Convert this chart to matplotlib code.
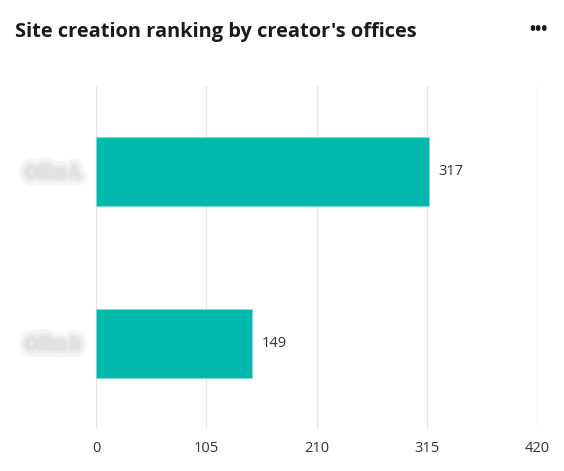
import matplotlib
matplotlib.use("Agg")
import matplotlib.pyplot as plt
import matplotlib.patheffects as pe

# data
offices = ["Office A", "Office B"]
site_counts = [317, 149]
x_ticks = [0, 105, 210, 315, 420]

BAR_COLOR = "#00b9ad"
TEXT_COLOR = "#333333"

plt.rcParams['font.family'] = ['Open Sans', 'DejaVu Sans']

fig = plt.figure(figsize=(5.64, 4.71), dpi=100)
ax = fig.add_axes([96 / 564, 42 / 471, 441 / 564, 343 / 471])

y_pos = list(range(len(offices)))[::-1]
ax.barh(y_pos, site_counts, height=0.4, color=BAR_COLOR,
        edgecolor="#7fdcd6", linewidth=0.6, zorder=3)

for y, v in zip(y_pos, site_counts):
    ax.text(v + 9, y, str(v), va="center", ha="left", fontsize=10.5, color=TEXT_COLOR)

ax.set_xlim(0, 420)
ax.set_ylim(-0.5, 1.5)
ax.set_xticks(x_ticks)
ax.set_xticklabels([str(t) for t in x_ticks], fontsize=10.5, color=TEXT_COLOR)
ax.tick_params(axis="x", length=0, pad=9)
ax.grid(axis="x", color="#e6e6e6", linewidth=1, zorder=0)

# office names are blurred in the source: draw them as soft grey smudges
ax.set_yticks(y_pos)
ax.set_yticklabels(offices, fontsize=10.5, color="#e2e2e2")
ax.tick_params(axis="y", length=0, pad=12)
for lbl in ax.get_yticklabels():
    lbl.set_path_effects([
        pe.withStroke(linewidth=12, foreground="#f6f6f6"),
        pe.withStroke(linewidth=7, foreground="#ececec"),
        pe.withStroke(linewidth=3, foreground="#e3e3e3"),
    ])

for s in ax.spines.values():
    s.set_visible(False)

fig.text(15 / 564, 1 - 32 / 471, "Site creation ranking by creator's offices",
         fontsize=14.4, fontweight="bold", color="#1a1a1a", va="center", ha="left")
fig.text(538 / 564, 1 - 30 / 471, "•••", fontsize=12, fontweight="bold",
         color="#1a1a1a", va="center", ha="center")

fig.savefig("out.png", dpi=100)
